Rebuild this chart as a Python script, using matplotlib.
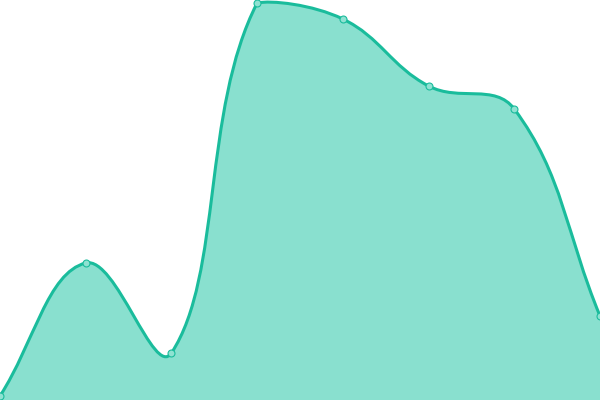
import numpy as np
import matplotlib
matplotlib.use("Agg")
import matplotlib.pyplot as plt
from matplotlib.path import Path
from matplotlib.patches import PathPatch

# Data
labels = ["1", "2", "3", "4", "5", "6", "7", "8"]
values = [4, 137, 47, 397, 381, 314, 291, 84]

line_color = "#1abc9c"
fill_color = "#89e0cf"
point_fill = "#8fe2d2"
tension = 0.4

fig = plt.figure(figsize=(6, 4), dpi=100)
ax = fig.add_axes([0, 0, 1, 1])
ax.set_xlim(0, len(values) - 1)
ax.set_ylim(0, 400)
ax.axis("off")

x = np.arange(len(values))
pts = ax.transData.transform(np.column_stack([x, values]))
W, H = fig.bbox.width, fig.bbox.height

# spline control points (same rule as chart.js, capped to chart area)
cps = []
n = len(pts)
for i in range(n):
    cur = pts[i]
    prev = pts[i - 1] if i > 0 else cur
    nxt = pts[i + 1] if i < n - 1 else cur
    d01 = np.hypot(*(cur - prev))
    d12 = np.hypot(*(nxt - cur))
    tot = d01 + d12
    s01 = d01 / tot if tot else 0
    s12 = d12 / tot if tot else 0
    cp_prev = cur - tension * s01 * (nxt - prev)
    cp_next = cur + tension * s12 * (nxt - prev)
    for cp in (cp_prev, cp_next):
        cp[0] = min(max(cp[0], 0), W)
        cp[1] = min(max(cp[1], 0), H)
    cps.append((cp_prev, cp_next))

verts = [pts[0]]
codes = [Path.MOVETO]
for i in range(n - 1):
    verts += [cps[i][1], cps[i + 1][0], pts[i + 1]]
    codes += [Path.CURVE4] * 3

inv = ax.transData.inverted()
line_verts = inv.transform(np.array(verts))
area_verts = np.vstack([line_verts, [[x[-1], 0], [x[0], 0], line_verts[0]]])
area_codes = codes + [Path.LINETO, Path.LINETO, Path.CLOSEPOLY]

ax.add_patch(PathPatch(Path(area_verts, area_codes), facecolor=fill_color,
                       edgecolor="none", clip_on=False))
ax.add_patch(PathPatch(Path(line_verts, codes), facecolor="none",
                       edgecolor=line_color, lw=2.2, clip_on=True))
ax.plot(x, values, "o", ms=5, mfc=point_fill, mec=line_color, mew=0.8,
        clip_on=False)

fig.savefig("out.png", dpi=100)
